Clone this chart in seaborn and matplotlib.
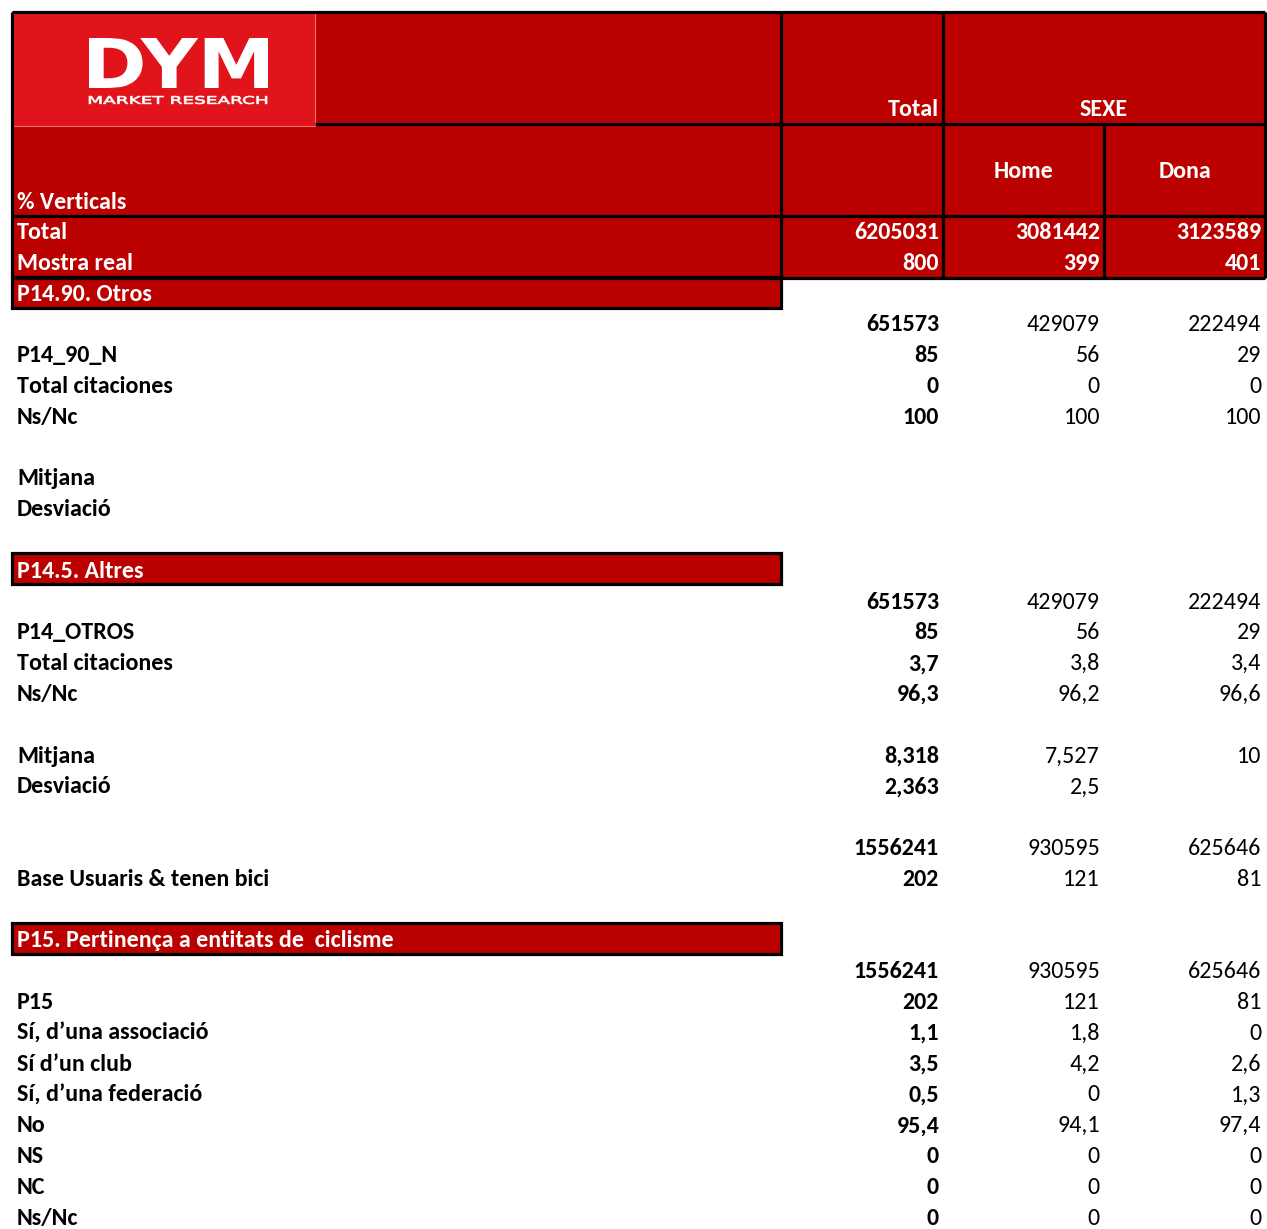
import matplotlib
matplotlib.use("Agg")
import matplotlib.pyplot as plt
import seaborn as sns
from matplotlib.patches import Rectangle, PathPatch
from matplotlib.textpath import TextPath
from matplotlib.font_manager import FontProperties
from matplotlib.transforms import Affine2D

sns.set_theme(style="white")
plt.rcParams['font.family'] = ['Carlito', 'DejaVu Sans']

# ---------------- data ----------------
columns = ["Total", "Home", "Dona"]
group_label = "SEXE"
universe = [6205031, 3081442, 3123589]
sample = [800, 399, 401]

# row kinds: 's' section title, 'b' base (no label), 'd' data, '' blank
row_kinds = ['s', 'b', 'd', 'd', 'd', '', 'd', 'd', '',
             's', 'b', 'd', 'd', 'd', '', 'd', 'd', '',
             'b', 'd', '',
             's', 'b', 'd', 'd', 'd', 'd', 'd', 'd', 'd', 'd']
row_labels = ["P14.90. Otros", "", "P14_90_N", "Total citaciones", "Ns/Nc", "", "Mitjana", "Desviació", "",
              "P14.5. Altres", "", "P14_OTROS", "Total citaciones", "Ns/Nc", "", "Mitjana", "Desviació", "",
              "", "Base Usuaris & tenen bici", "",
              "P15. Pertinença a entitats de  ciclisme", "", "P15", "Sí, d’una associació", "Sí d’un club",
              "Sí, d’una federació", "No", "NS", "NC", "Ns/Nc"]
total_vals = [None, 651573, 85, 0, 100, None, None, None, None,
              None, 651573, 85, 3.7, 96.3, None, 8.318, 2.363, None,
              1556241, 202, None,
              None, 1556241, 202, 1.1, 3.5, 0.5, 95.4, 0, 0, 0]
home_vals = [None, 429079, 56, 0, 100, None, None, None, None,
             None, 429079, 56, 3.8, 96.2, None, 7.527, 2.5, None,
             930595, 121, None,
             None, 930595, 121, 1.8, 4.2, 0, 94.1, 0, 0, 0]
dona_vals = [None, 222494, 29, 0, 100, None, None, None, None,
             None, 222494, 29, 3.4, 96.6, None, 10, None, None,
             625646, 81, None,
             None, 625646, 81, 0, 2.6, 1.3, 97.4, 0, 0, 0]


def fmt(v):
    if v is None:
        return ""
    if isinstance(v, int):
        return str(v)
    return repr(v).replace('.', ',')


# ---------------- layout ----------------
W, H = 1267, 1229
fig = plt.figure(figsize=(W / 100, H / 100), dpi=100)
ax = fig.add_axes([0, 0, 1, 1])
ax.set_xlim(0, W)
ax.set_ylim(H, 0)
ax.axis('off')

RED = '#BB0000'
LOGO_RED = '#E1141C'
LW = 2.3
FS = 17.3
CAP = 8  # half cap height in px

x_left, x_c1, x_c2, x_c3, x_right = 12, 781, 943, 1104, 1265
y_top, y_h1, y_h2, y_h3 = 12, 124, 216, 278
row0_y = 231
row_h = 30.8
col_right = [939, 1100, 1261]

# header background
ax.add_patch(Rectangle((x_left, y_top), x_right - x_left, y_h3 - y_top, facecolor=RED, edgecolor='none', zorder=1))


def fit_text(text, x0, x1, ybase, cap_h, weight='bold', family='DejaVu Sans', stroke=0.0):
    fp = FontProperties(family=family, weight=weight)
    tp = TextPath((0, 0), text, size=100, prop=fp)
    ext = tp.get_extents()
    sx = (x1 - x0) / ext.width
    sy = cap_h / ext.height
    tr = Affine2D().translate(-ext.x0, -ext.y0).scale(sx, -sy).translate(x0, ybase)
    ax.add_patch(PathPatch(tr.transform_path(tp), facecolor='white',
                           edgecolor='white' if stroke else 'none', lw=stroke, zorder=5))


# logo
ax.add_patch(Rectangle((13, 13), 302, 113, facecolor=LOGO_RED, edgecolor='#EE7070', lw=0.8, zorder=3))
fit_text("DYM", 89, 268, 88, 50)
fit_text("MARKET RESEARCH", 89, 267, 104, 8, weight='normal', stroke=0.5)

# header grid lines
ax.hlines([y_top, y_h2, y_h3], x_left, x_right, colors='black', lw=LW, zorder=4)
ax.hlines([y_h1], 315, x_right, colors='black', lw=LW, zorder=4)
ax.vlines([x_left, x_c1, x_c2, x_right], y_top, y_h3, colors='black', lw=LW, zorder=4)
ax.vlines([x_c3], y_h1, y_h3, colors='black', lw=LW, zorder=4)

tkw = dict(color='white', fontsize=FS, fontweight='bold', va='baseline', zorder=6)
ax.text(col_right[0], 108 + CAP, columns[0], ha='right', **tkw)
ax.text((x_c2 + x_right) / 2, 108 + CAP, group_label, ha='center', **tkw)
ax.text((x_c2 + x_c3) / 2, 170 + CAP, columns[1], ha='center', **tkw)
ax.text((x_c3 + x_right) / 2, 170 + CAP, columns[2], ha='center', **tkw)
ax.text(17, 201 + CAP, "% Verticals", ha='left', **tkw)
ax.text(17, row0_y + CAP, "Total", ha='left', **tkw)
ax.text(17, row0_y + row_h + CAP, "Mostra real", ha='left', **tkw)
for j in range(3):
    ax.text(col_right[j], row0_y + CAP, str(universe[j]), ha='right', **tkw)
    ax.text(col_right[j], row0_y + row_h + CAP, str(sample[j]), ha='right', **tkw)

# body rows
for i, kind in enumerate(row_kinds):
    yc = row0_y + (i + 2) * row_h
    if kind == 's':
        top = yc - row_h / 2 + (0 if i == 0 else -1)
        ax.add_patch(Rectangle((x_left, top), x_c1 - x_left, row_h, facecolor=RED,
                               edgecolor='black', lw=LW, zorder=2))
        ax.text(17, yc + CAP, row_labels[i], ha='left', **tkw)
        continue
    if kind == '':
        continue
    if row_labels[i]:
        ax.text(17, yc + CAP, row_labels[i], ha='left', va='baseline', color='black',
                fontsize=FS, fontweight='bold')
    for j, vals in enumerate([total_vals, home_vals, dona_vals]):
        s = fmt(vals[i])
        if s:
            ax.text(col_right[j], yc + CAP, s, ha='right', va='baseline', color='black',
                    fontsize=FS, fontweight='bold' if j == 0 else 'normal')

fig.savefig("out.png", dpi=100)
